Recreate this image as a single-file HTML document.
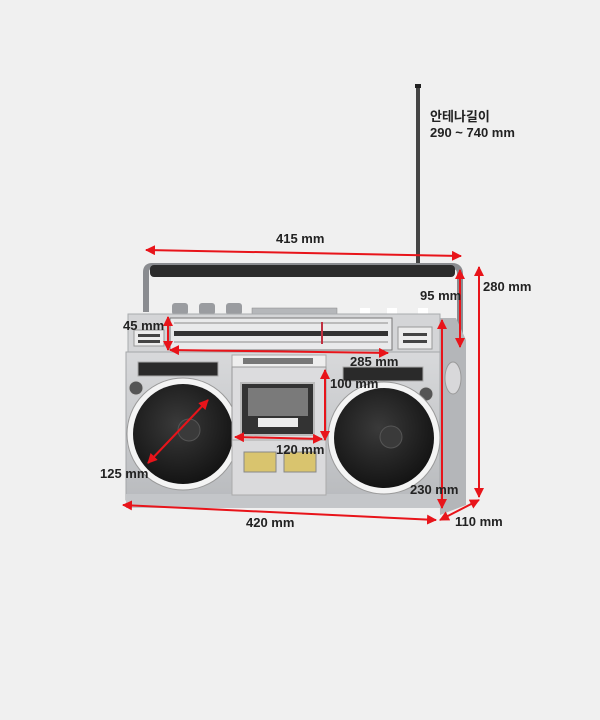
<!DOCTYPE html>
<html><head><meta charset="utf-8"><style>
html,body{margin:0;padding:0;background:#f0f0f0;}
svg{display:block}
text{font-family:"Liberation Sans","Noto Sans CJK KR",sans-serif;font-size:13px;fill:#222;}
</style></head><body>
<svg width="600" height="720" viewBox="0 0 600 720" xmlns="http://www.w3.org/2000/svg">
<defs>
<linearGradient id="body" x1="0" y1="0" x2="0" y2="1"><stop offset="0" stop-color="#d8d9db"/><stop offset="1" stop-color="#b9bbbe"/></linearGradient>
<radialGradient id="spk" cx="0.45" cy="0.4" r="0.6"><stop offset="0" stop-color="#3a3a3a"/><stop offset="1" stop-color="#141414"/></radialGradient>
<marker id="a" viewBox="0 0 10 10" refX="9" refY="5" markerWidth="5" markerHeight="5" orient="auto-start-reverse"><path d="M0 0L10 5L0 10z" fill="#e8141a"/></marker>
</defs>
<rect width="600" height="720" fill="#f0f0f0"/>
<!-- antenna -->
<rect x="416" y="84" width="4" height="190" fill="#444"/>
<rect x="415" y="84" width="6" height="4" fill="#222"/>
<!-- handle -->
<path d="M146 312 L146 272 Q146 266 152 266 L452 266 Q460 266 460 274 L460 345" fill="none" stroke="#8a8c90" stroke-width="6"/>
<rect x="150" y="265" width="305" height="12" rx="4" fill="#2c2c2c"/>
<!-- knobs on top -->
<rect x="172" y="303" width="16" height="12" rx="3" fill="#9a9ca0"/>
<rect x="199" y="303" width="16" height="12" rx="3" fill="#9a9ca0"/>
<rect x="226" y="303" width="16" height="12" rx="3" fill="#9a9ca0"/>
<rect x="252" y="308" width="85" height="9" fill="#b5b7ba" stroke="#888" stroke-width="0.5"/>
<rect x="360" y="308" width="10" height="8" fill="#fff"/>
<rect x="387" y="308" width="10" height="8" fill="#fff"/>
<rect x="418" y="308" width="10" height="8" fill="#fff"/>
<!-- side panel -->
<path d="M438 318 L456 318 L466 340 L466 505 L440 515 Z" fill="#b4b6b9"/>
<ellipse cx="453" cy="378" rx="8" ry="16" fill="#d8d8da" stroke="#999"/>
<!-- upper body -->
<rect x="128" y="314" width="312" height="40" fill="#d4d5d7" stroke="#a9abae"/>
<rect x="170" y="318" width="222" height="32" fill="#e9eaeb" stroke="#777"/>
<rect x="174" y="331" width="214" height="5" fill="#333"/>
<rect x="174" y="322" width="214" height="2" fill="#bbb"/>
<rect x="174" y="341" width="214" height="2" fill="#bbb"/>
<rect x="321" y="322" width="2" height="22" fill="#c03040"/>
<rect x="134" y="330" width="30" height="16" fill="#ececec" stroke="#999"/>
<rect x="138" y="334" width="22" height="3" fill="#444"/><rect x="138" y="340" width="22" height="3" fill="#444"/>
<rect x="398" y="327" width="34" height="22" fill="#ececec" stroke="#999"/>
<rect x="403" y="333" width="24" height="3" fill="#444"/><rect x="403" y="340" width="24" height="3" fill="#444"/>
<!-- main body -->
<rect x="126" y="352" width="314" height="148" fill="url(#body)" stroke="#a4a6a9"/>
<rect x="126" y="494" width="314" height="14" fill="#c4c6c9"/>
<rect x="138" y="362" width="80" height="14" fill="#2a2a2a" stroke="#aaa"/>
<rect x="343" y="367" width="80" height="14" fill="#2a2a2a" stroke="#aaa"/>
<circle cx="136" cy="388" r="7" fill="#555" stroke="#ccc"/>
<circle cx="426" cy="394" r="7" fill="#555" stroke="#ccc"/>
<!-- speakers -->
<circle cx="183" cy="434" r="56" fill="#f4f4f4" stroke="#999"/>
<circle cx="183" cy="434" r="50" fill="url(#spk)"/>
<circle cx="189" cy="430" r="11" fill="#3a3a3a" stroke="#555"/>
<circle cx="384" cy="438" r="56" fill="#f4f4f4" stroke="#999"/>
<circle cx="384" cy="438" r="50" fill="url(#spk)"/>
<circle cx="391" cy="437" r="11" fill="#3a3a3a" stroke="#555"/>
<!-- cassette -->
<rect x="232" y="355" width="94" height="12" fill="#eee" stroke="#aaa"/>
<rect x="243" y="358" width="70" height="6" fill="#777"/>
<rect x="232" y="367" width="94" height="73" fill="#dcdcde" stroke="#999"/>
<rect x="241" y="383" width="73" height="52" fill="#333" stroke="#bbb" stroke-width="2"/>
<rect x="248" y="388" width="60" height="28" fill="#7a7a7a"/>
<rect x="258" y="418" width="40" height="9" fill="#ececec"/>
<rect x="232" y="440" width="94" height="55" fill="#dadadc" stroke="#aaa"/>
<rect x="244" y="452" width="32" height="20" fill="#d9c46e" stroke="#888"/>
<rect x="284" y="452" width="32" height="20" fill="#d9c46e" stroke="#888"/>
<!-- red dimension lines -->
<g stroke="#e8141a" stroke-width="2" fill="none" marker-start="url(#a)" marker-end="url(#a)">
<line x1="146" y1="250" x2="461" y2="256"/>
<line x1="479" y1="267" x2="479" y2="497"/>
<line x1="460" y1="270" x2="460" y2="347"/>
<line x1="168" y1="317" x2="168" y2="350"/>
<line x1="170" y1="350" x2="388" y2="353"/>
<line x1="325" y1="370" x2="325" y2="440"/>
<line x1="235" y1="437" x2="322" y2="439"/>
<line x1="148" y1="463" x2="208" y2="400"/>
<line x1="442" y1="320" x2="442" y2="508"/>
<line x1="123" y1="505" x2="436" y2="520"/>
<line x1="440" y1="520" x2="479" y2="500"/>
</g>
<!-- labels -->
<g font-weight="bold">
<text x="430" y="121" font-weight="bold">안테나길이</text>
<text x="430" y="137" font-weight="bold">290 ~ 740 mm</text>
<text x="276" y="243">415 mm</text>
<text x="483" y="291">280 mm</text>
<text x="420" y="300">95 mm</text>
<text x="123" y="330">45 mm</text>
<text x="350" y="366">285 mm</text>
<text x="330" y="388">100 mm</text>
<text x="276" y="454">120 mm</text>
<text x="100" y="478">125 mm</text>
<text x="410" y="494">230 mm</text>
<text x="246" y="527">420 mm</text>
<text x="455" y="526">110 mm</text>
</g>
</svg>
</body></html>
